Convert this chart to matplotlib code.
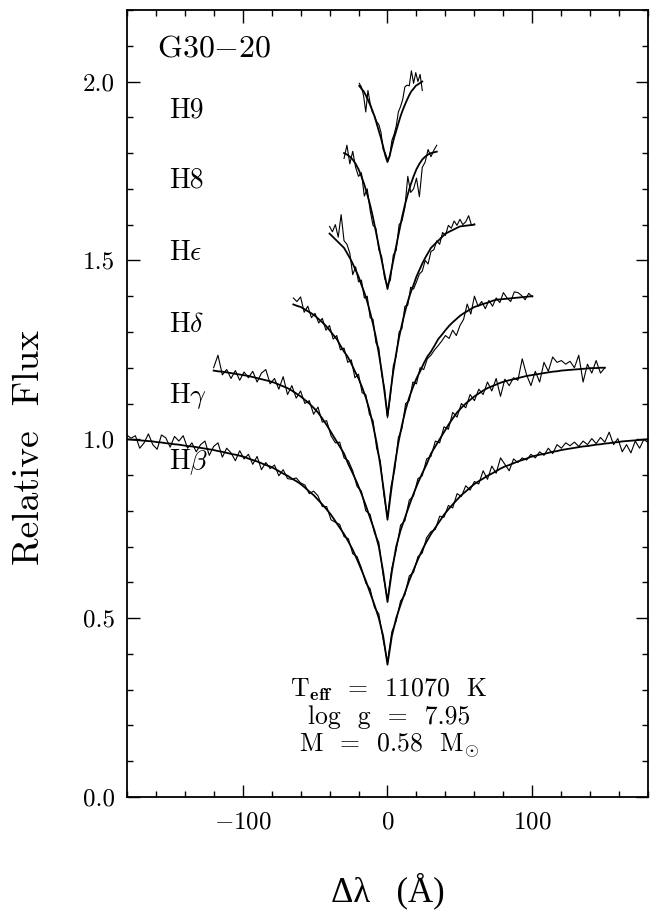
import numpy as np
import matplotlib
matplotlib.use("Agg")
import matplotlib.pyplot as plt
from matplotlib.ticker import MultipleLocator

plt.rcParams['font.family'] = 'serif'
plt.rcParams['font.serif'] = ['cmr10', 'DejaVu Serif']
plt.rcParams['mathtext.fontset'] = 'cm'
plt.rcParams['axes.formatter.use_mathtext'] = True
plt.rcParams['axes.unicode_minus'] = True

# ---------------- data ----------------
star_name = 'G30$-$20'
line_labels = ['H9', 'H8', r'H$\epsilon$', r'H$\delta$', r'H$\gamma$', r'H$\beta$']
label_y = [1.92, 1.725, 1.52, 1.32, 1.12, 0.935]
fit_text = [r'T$_{\mathbf{eff}}$  =  11070  K', r'log  g  =  7.95', r'M  =  0.58  M$_{\odot}$']
fit_y = [0.2796, 0.204, 0.126]

# wavelength grids (start, stop, step) in Angstrom
hb_x = np.arange(-180, 180.1, 3)
hg_x = np.arange(-120, 150.1, 3)
hd_x = np.arange(-65, 100.1, 2.5)
he_x = np.arange(-40, 60.1, 2)
h8_x = np.arange(-30, 34.1, 2)
h9_x = np.arange(-19.5, 24.1, 1.5)

# model fits
hb_model = [1.000, 0.999, 0.998, 0.997, 0.996, 0.995, 0.994, 0.992, 0.991, 0.989,
            0.988, 0.986, 0.985, 0.983, 0.981, 0.980, 0.978, 0.976, 0.974, 0.972,
            0.970, 0.967, 0.965, 0.962, 0.959, 0.957, 0.954, 0.951, 0.946, 0.942,
            0.938, 0.933, 0.928, 0.924, 0.918, 0.911, 0.904, 0.898, 0.890, 0.883,
            0.875, 0.865, 0.854, 0.844, 0.831, 0.818, 0.804, 0.789, 0.771, 0.753,
            0.735, 0.714, 0.691, 0.664, 0.635, 0.605, 0.571, 0.537, 0.500, 0.450,
            0.370,
            0.450, 0.500, 0.537, 0.571, 0.605, 0.635, 0.664, 0.691, 0.714, 0.735,
            0.753, 0.771, 0.789, 0.804, 0.818, 0.831, 0.844, 0.854, 0.865, 0.875,
            0.883, 0.890, 0.898, 0.904, 0.911, 0.918, 0.924, 0.928, 0.933, 0.938,
            0.942, 0.946, 0.951, 0.954, 0.957, 0.959, 0.962, 0.965, 0.967, 0.970,
            0.972, 0.974, 0.976, 0.978, 0.980, 0.981, 0.983, 0.985, 0.986, 0.988,
            0.989, 0.991, 0.992, 0.994, 0.995, 0.996, 0.997, 0.998, 0.999, 1.000]
hb_obs = [1.012, 1.003, 1.010, 0.975, 0.990, 1.015, 0.985, 0.972, 1.012, 1.004,
          0.978, 1.008, 0.995, 1.010, 0.975, 0.990, 0.965, 0.985, 0.995, 0.955,
          0.980, 0.990, 0.950, 0.975, 0.962, 0.940, 0.968, 0.945, 0.958, 0.930,
          0.952, 0.915, 0.935, 0.918, 0.928, 0.898, 0.915, 0.890, 0.888, 0.892,
          0.878, 0.872, 0.848, 0.855, 0.842, 0.812, 0.812, 0.775, 0.768, 0.762,
          0.728, 0.722, 0.680, 0.672, 0.640, 0.598, 0.582, 0.530, 0.512, 0.440,
          0.378,
          0.462, 0.492, 0.548, 0.565, 0.618, 0.628, 0.672, 0.682, 0.725, 0.742,
          0.748, 0.785, 0.782, 0.815, 0.808, 0.848, 0.840, 0.870, 0.858, 0.882,
          0.875, 0.912, 0.888, 0.925, 0.905, 0.948, 0.930, 0.912, 0.945, 0.935,
          0.948, 0.942, 0.958, 0.948, 0.965, 0.955, 0.975, 0.960, 0.985, 0.975,
          0.990, 0.982, 0.992, 0.980, 0.995, 0.985, 1.002, 0.988, 1.005, 0.992,
          1.020, 0.985, 1.002, 0.965, 0.985, 0.962, 0.995, 0.975, 1.000, 0.990]

hg_model = [1.192, 1.190, 1.189, 1.187, 1.185, 1.183, 1.181, 1.179, 1.177, 1.174,
            1.171, 1.168, 1.165, 1.162, 1.158, 1.153, 1.148, 1.143, 1.136, 1.128,
            1.120, 1.110, 1.100, 1.088, 1.075, 1.058, 1.040, 1.020, 1.000, 0.980,
            0.960, 0.930, 0.905, 0.878, 0.848, 0.815, 0.780, 0.745, 0.700, 0.630,
            0.545,
            0.630, 0.700, 0.745, 0.780, 0.815, 0.848, 0.878, 0.905, 0.930, 0.960,
            0.980, 1.000, 1.020, 1.040, 1.058, 1.075, 1.088, 1.100, 1.110, 1.120,
            1.128, 1.136, 1.143, 1.148, 1.153, 1.158, 1.162, 1.165, 1.168, 1.171,
            1.174, 1.177, 1.179, 1.181, 1.183, 1.185, 1.187, 1.189, 1.190, 1.192,
            1.193, 1.194, 1.195, 1.196, 1.197, 1.198, 1.199, 1.199, 1.200, 1.200]
hg_obs = [1.200, 1.235, 1.180, 1.195, 1.170, 1.192, 1.165, 1.188, 1.172, 1.190,
          1.160, 1.185, 1.195, 1.155, 1.170, 1.140, 1.175, 1.125, 1.150, 1.115,
          1.135, 1.100, 1.108, 1.070, 1.090, 1.048, 1.052, 1.010, 0.990, 0.992,
          0.948, 0.940, 0.912, 0.868, 0.855, 0.800, 0.790, 0.738, 0.712, 0.620,
          0.552,
          0.640, 0.690, 0.760, 0.772, 0.830, 0.842, 0.890, 0.898, 0.945, 0.952,
          0.995, 0.990, 1.035, 1.028, 1.075, 1.062, 1.100, 1.088, 1.125, 1.108,
          1.140, 1.125, 1.160, 1.135, 1.170, 1.120, 1.168, 1.150, 1.172, 1.165,
          1.225, 1.180, 1.150, 1.190, 1.160, 1.215, 1.190, 1.230, 1.215, 1.220,
          1.210, 1.218, 1.200, 1.235, 1.160, 1.210, 1.185, 1.220, 1.185, 1.200]

hd_model = [1.377, 1.373, 1.370, 1.364, 1.358, 1.352, 1.345, 1.336, 1.327, 1.317,
            1.305, 1.292, 1.280, 1.262, 1.245, 1.231, 1.212, 1.190, 1.170, 1.145,
            1.117, 1.083, 1.040, 0.990, 0.928, 0.855,
            0.775,
            0.855, 0.928, 0.990, 1.040, 1.083, 1.117, 1.145, 1.170, 1.190, 1.212,
            1.231, 1.245, 1.262, 1.280, 1.292, 1.305, 1.317, 1.327, 1.336, 1.345,
            1.352, 1.358, 1.364, 1.370, 1.373, 1.377, 1.380, 1.383, 1.387, 1.390,
            1.391, 1.392, 1.393, 1.394, 1.395, 1.396, 1.397, 1.398, 1.399, 1.400]
hd_obs = [1.395, 1.385, 1.398, 1.355, 1.372, 1.340, 1.352, 1.325, 1.338, 1.305,
          1.318, 1.280, 1.290, 1.250, 1.255, 1.215, 1.222, 1.172, 1.182, 1.130,
          1.125, 1.070, 1.052, 0.975, 0.940, 0.845,
          0.782,
          0.870, 0.915, 1.005, 1.030, 1.100, 1.108, 1.160, 1.155, 1.200, 1.195,
          1.225, 1.235, 1.250, 1.262, 1.275, 1.290, 1.282, 1.305, 1.290, 1.318,
          1.335, 1.378, 1.350, 1.400, 1.372, 1.385, 1.365, 1.388, 1.372, 1.395,
          1.382, 1.410, 1.395, 1.385, 1.412, 1.410, 1.402, 1.390, 1.408, 1.398]

he_model = [1.575, 1.567, 1.559, 1.551, 1.543, 1.535, 1.521, 1.507, 1.491, 1.473,
            1.455, 1.432, 1.410, 1.385, 1.355, 1.322, 1.285, 1.240, 1.190, 1.130,
            1.065,
            1.130, 1.190, 1.240, 1.285, 1.322, 1.355, 1.385, 1.410, 1.432, 1.455,
            1.473, 1.491, 1.507, 1.521, 1.535, 1.543, 1.551, 1.559, 1.567, 1.575,
            1.579, 1.583, 1.587, 1.591, 1.595, 1.596, 1.597, 1.598, 1.599, 1.600]
he_obs = [1.595, 1.580, 1.600, 1.565, 1.628, 1.555, 1.545, 1.520, 1.460, 1.482,
          1.440, 1.445, 1.395, 1.400, 1.340, 1.335, 1.270, 1.255, 1.180, 1.142,
          1.060,
          1.120, 1.205, 1.232, 1.300, 1.310, 1.372, 1.375, 1.425, 1.420, 1.440,
          1.462, 1.470, 1.500, 1.490, 1.525, 1.530, 1.555, 1.545, 1.578, 1.570,
          1.598, 1.590, 1.610, 1.598, 1.615, 1.600, 1.608, 1.625, 1.598, 1.602]

h8_model = [1.800, 1.796, 1.790, 1.782, 1.770, 1.755, 1.735, 1.712, 1.685, 1.655,
            1.620, 1.580, 1.540, 1.500, 1.460,
            1.420,
            1.460, 1.500, 1.540, 1.580, 1.620, 1.655, 1.685, 1.712, 1.735, 1.755,
            1.770, 1.782, 1.790, 1.796, 1.800, 1.802, 1.804]
h8_obs = [1.785, 1.822, 1.770, 1.805, 1.760, 1.735, 1.745, 1.680, 1.700, 1.640,
          1.598, 1.590, 1.530, 1.510, 1.450,
          1.430,
          1.445, 1.515, 1.528, 1.600, 1.610, 1.648, 1.735, 1.690, 1.700, 1.730,
          1.678, 1.760, 1.775, 1.810, 1.790, 1.808, 1.822]

h9_model = [1.988, 1.980, 1.973, 1.962, 1.949, 1.935, 1.920, 1.903, 1.883, 1.862,
            1.842, 1.818, 1.793,
            1.775,
            1.793, 1.818, 1.842, 1.862, 1.883, 1.903, 1.920, 1.935, 1.949, 1.962,
            1.973, 1.980, 1.988, 1.992, 1.996, 2.000]
h9_obs = [1.995, 1.985, 1.960, 1.915, 1.975, 1.940, 1.915, 1.905, 1.888, 1.880,
          1.858, 1.810, 1.800,
          1.782,
          1.790, 1.835, 1.852, 1.875, 1.915, 1.930, 1.950, 1.985, 1.990, 1.988,
          2.030, 1.995, 2.025, 2.000, 2.020, 1.975]

series = [(hb_x, hb_model, hb_obs), (hg_x, hg_model, hg_obs), (hd_x, hd_model, hd_obs),
          (he_x, he_model, he_obs), (h8_x, h8_model, h8_obs), (h9_x, h9_model, h9_obs)]

# ---------------- figure ----------------
fig = plt.figure(figsize=(6.55, 9.14), dpi=100)
ax = fig.add_axes([126.7 / 655, 117 / 914, (648.3 - 126.7) / 655, (797 - 10) / 914])

for x, model, obs in series:
    ax.plot(x, obs, color='black', lw=0.8)
    ax.plot(x, model, color='black', lw=1.3)

ax.set_xlim(-180, 180)
ax.set_ylim(0, 2.2)
ax.xaxis.set_major_locator(MultipleLocator(100))
ax.xaxis.set_minor_locator(MultipleLocator(20))
ax.yaxis.set_major_locator(MultipleLocator(0.5))
ax.yaxis.set_minor_locator(MultipleLocator(0.1))
ax.yaxis.set_major_formatter(plt.FuncFormatter(lambda v, p: f'{v:.1f}'))
ax.tick_params(which='both', direction='in', top=True, right=True, width=1.0)
ax.tick_params(which='major', length=9, labelsize=18)
ax.tick_params(which='minor', length=4.5)
ax.tick_params(axis='x', pad=10.5)
ax.tick_params(axis='y', pad=8.5)
for s in ax.spines.values():
    s.set_linewidth(1.3)

ax.text(-159, 2.07, star_name, fontsize=23, ha='left', va='baseline')
for lab, yy in zip(line_labels, label_y):
    ax.text(-151, yy, lab, fontsize=20, ha='left', va='center')

for t, yy in zip(fit_text, fit_y):
    ax.text(1, yy, t, fontsize=18.5, ha='center', va='baseline')

ax.set_ylabel('Relative  Flux', fontsize=27)
ax.yaxis.set_label_coords(-0.154, 0.4447)
ax.set_xlabel('Δλ   (Å)', fontsize=25, family=['Liberation Serif', 'DejaVu Serif'])
ax.xaxis.set_label_coords(0.501, -0.0966)

fig.savefig('out.png', dpi=100)
